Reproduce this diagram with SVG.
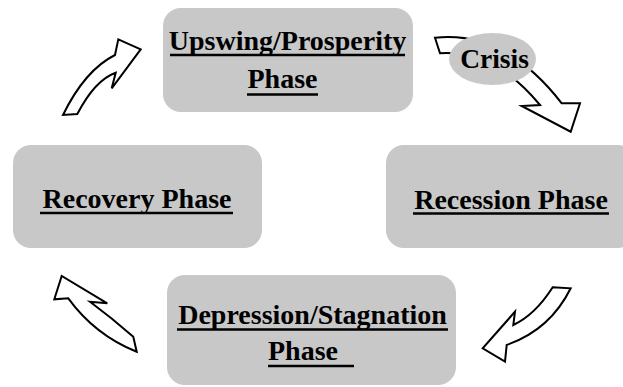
<svg xmlns="http://www.w3.org/2000/svg" width="623" height="387" viewBox="0 0 623 387">
<style>
.box{fill:#c8c8c8;}
.lbl{font-family:"Liberation Serif","Times New Roman",serif;font-weight:bold;font-size:28px;fill:#000;text-anchor:middle;}
.ul{stroke:#000;stroke-width:2.5;}
.arr{fill:#fff;stroke:#000;stroke-width:2;stroke-linejoin:miter;}
</style>
<rect width="623" height="387" fill="#fff"/>
<g id="connectors">
<path id="arrow-recovery-upswing" class="arr" d="M63,115 Q85,70 115,55 L118.3,39.3 L140.7,49.3 L111.7,88.3 L115.7,72.7 Q95,80 77.3,114 Z"/>
<path id="arrow-upswing-recession" class="arr" d="M435,37.7 L440,53.3 Q495,50 540,105 L521.7,106 L570.7,131.7 L580,103.3 L561.7,103.3 Q505,30 435,37.7 Z"/>
<path id="arrow-recession-depression" class="arr" d="M552.7,287.3 L570.7,288.3 Q550,330 506.7,345 L505,361.7 L482.7,348.3 L515,311.7 L513.3,325 Q535,315 552.7,287.3 Z"/>
<path id="arrow-depression-recovery" class="arr" d="M136.7,351.7 L133.3,336.7 Q112,318 90,301.7 L107.3,303.3 L61.7,276 L54.3,299.3 L68.3,298.3 Q95,335 136.7,351.7 Z"/>
</g>
<g id="crisis">
<ellipse class="box" cx="492.5" cy="59" rx="43.5" ry="26"/>
<text class="lbl" x="494.5" y="68" style="font-size:27.5px">Crisis</text>
</g>
<g id="upswing">
<rect class="box" x="163" y="8" width="250" height="104" rx="18"/>
<text class="lbl" x="287.5" y="49.5">Upswing/Prosperity</text>
<line class="ul" x1="170" y1="55" x2="405" y2="55"/>
<text class="lbl" x="282.5" y="88">Phase</text>
<line class="ul" x1="247" y1="94.5" x2="318" y2="94.5"/>
</g>
<g id="recovery">
<rect class="box" x="13" y="145" width="249" height="103" rx="18"/>
<text class="lbl" x="137" y="208">Recovery Phase</text>
<line class="ul" x1="40" y1="213" x2="233" y2="213"/>
</g>
<g id="recession">
<rect class="box" x="386" y="145" width="250" height="103" rx="18"/>
<text class="lbl" x="511" y="208.5">Recession Phase</text>
<line class="ul" x1="413" y1="213.5" x2="609" y2="213.5"/>
</g>
<g id="depression">
<rect class="box" x="167" y="275" width="289" height="110" rx="18"/>
<text class="lbl" x="312.5" y="324">Depression/Stagnation</text>
<line class="ul" x1="177" y1="329.5" x2="448" y2="329.5"/>
<text class="lbl" x="303" y="360">Phase</text>
<line class="ul" x1="268" y1="366" x2="354" y2="366"/>
</g>
</svg>
